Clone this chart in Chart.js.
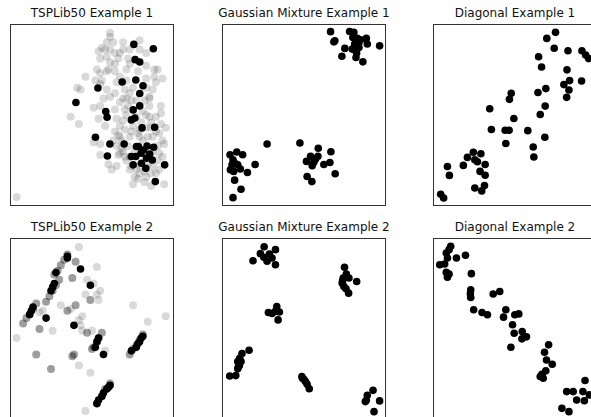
<!DOCTYPE html>
<html>
<head>
<meta charset="utf-8">
<script src="https://cdn.jsdelivr.net/npm/chart.js@4"></script>
<style>
  body { margin: 0; background: #fff; width: 591px; height: 417px; overflow: hidden; position: relative; }
  .panel { position: absolute; width: 164px; }
  .panel .title { position: absolute; top: -18px; left: -40px; width: 244px; text-align: center;
    font: 12px "DejaVu Sans", sans-serif; color: #111; white-space: nowrap; }
  canvas { display: block; }
</style>
</head>
<body>
<div class="panel" style="left:10px;top:24px"><div class="title">TSPLib50 Example 1</div><canvas id="c1" width="164" height="182"></canvas></div>
<div class="panel" style="left:222px;top:24px"><div class="title">Gaussian Mixture Example 1</div><canvas id="c2" width="164" height="182"></canvas></div>
<div class="panel" style="left:433px;top:24px"><div class="title">Diagonal Example 1</div><canvas id="c3" width="164" height="182"></canvas></div>
<div class="panel" style="left:10px;top:238px"><div class="title">TSPLib50 Example 2</div><canvas id="c4" width="164" height="182"></canvas></div>
<div class="panel" style="left:222px;top:238px"><div class="title">Gaussian Mixture Example 2</div><canvas id="c5" width="164" height="182"></canvas></div>
<div class="panel" style="left:433px;top:238px"><div class="title">Diagonal Example 2</div><canvas id="c6" width="164" height="182"></canvas></div>
<script>
// точки в долях осей (0..1)
const tsp1Black = [[0.755,0.888],[0.874,0.864],[0.763,0.804],[0.791,0.791],[0.767,0.692],[0.684,0.681],[0.811,0.661],[0.536,0.648],[0.791,0.618],[0.402,0.569],[0.791,0.550],[0.751,0.528],[0.584,0.519],[0.592,0.488],[0.761,0.483],[0.740,0.473],[0.805,0.429],[0.882,0.433],[0.521,0.378],[0.609,0.341],[0.696,0.341],[0.771,0.327],[0.836,0.330],[0.876,0.323],[0.767,0.272],[0.832,0.262],[0.868,0.253],[0.799,0.290],[0.740,0.272],[0.594,0.275],[0.751,0.226],[0.801,0.235],[0.943,0.226],[0.828,0.207],[0.886,0.134],[0.783,0.327],[0.852,0.286],[0.815,0.308]];
const tsp1Gray = [[0.61,0.95],[0.61,0.93],[0.59,0.90],[0.63,0.90],[0.56,0.87],[0.54,0.85],[0.58,0.86],[0.61,0.86],[0.64,0.84],[0.69,0.90],[0.69,0.86],[0.67,0.84],[0.73,0.86],[0.79,0.86],[0.83,0.84],[0.72,0.81],[0.73,0.78],[0.61,0.79],[0.64,0.78],[0.60,0.75],[0.53,0.75],[0.55,0.73],[0.59,0.74],[0.56,0.69],[0.64,0.74],[0.71,0.75],[0.67,0.71],[0.78,0.74],[0.83,0.77],[0.88,0.75],[0.90,0.75],[0.93,0.70],[0.88,0.71],[0.83,0.70],[0.75,0.65],[0.70,0.64],[0.64,0.62],[0.59,0.64],[0.55,0.67],[0.46,0.71],[0.41,0.65],[0.43,0.64],[0.87,0.64],[0.89,0.68],[0.85,0.59],[0.71,0.59],[0.69,0.59],[0.67,0.57],[0.72,0.55],[0.74,0.58],[0.77,0.58],[0.82,0.58],[0.85,0.55],[0.92,0.55],[0.92,0.51],[0.89,0.49],[0.83,0.50],[0.85,0.49],[0.86,0.46],[0.92,0.45],[0.95,0.43],[0.51,0.54],[0.55,0.55],[0.54,0.48],[0.58,0.44],[0.65,0.48],[0.37,0.49],[0.42,0.45],[0.70,0.53],[0.71,0.50],[0.69,0.47],[0.67,0.44],[0.70,0.42],[0.74,0.41],[0.79,0.38],[0.73,0.38],[0.67,0.38],[0.66,0.39],[0.81,0.36],[0.84,0.38],[0.87,0.38],[0.93,0.36],[0.94,0.34],[0.90,0.33],[0.51,0.35],[0.55,0.34],[0.55,0.28],[0.65,0.33],[0.68,0.32],[0.67,0.29],[0.70,0.27],[0.73,0.27],[0.71,0.25],[0.74,0.22],[0.73,0.20],[0.77,0.20],[0.82,0.19],[0.87,0.22],[0.91,0.20],[0.89,0.18],[0.79,0.18],[0.76,0.16],[0.78,0.15],[0.83,0.16],[0.86,0.18],[0.75,0.12],[0.82,0.13],[0.86,0.11],[0.94,0.12],[0.60,0.23],[0.62,0.20],[0.66,0.28],[0.65,0.22],[0.04,0.05],[0.79,0.42],[0.83,0.43],[0.78,0.40],[0.68,0.36],[0.83,0.27],[0.87,0.30],[0.91,0.29],[0.93,0.27],[0.84,0.23],[0.79,0.22],[0.90,0.25],[0.76,0.30],[0.72,0.33],[0.69,0.30],[0.63,0.36],[0.64,0.41],[0.61,0.60],[0.71,0.69],[0.73,0.62],[0.57,0.59],[0.52,0.69],[0.65,0.68],[0.66,0.81],[0.59,0.82],[0.55,0.81],[0.79,0.91],[0.83,0.65],[0.85,0.60],[0.77,0.49],[0.81,0.52],[0.80,0.46],[0.86,0.43],[0.89,0.41],[0.91,0.40],[0.75,0.44],[0.64,0.53]];

const gm1Points = [[0.662,0.958],[0.778,0.959],[0.804,0.954],[0.688,0.908],[0.682,0.902],[0.798,0.926],[0.825,0.921],[0.880,0.921],[0.835,0.899],[0.886,0.890],[0.961,0.880],[0.749,0.866],[0.794,0.862],[0.815,0.853],[0.835,0.871],[0.821,0.840],[0.731,0.823],[0.817,0.816],[0.859,0.792],[0.809,0.890],[0.845,0.913],
  [0.275,0.341],[0.049,0.282],[0.090,0.297],[0.126,0.282],[0.067,0.254],[0.077,0.236],[0.096,0.227],[0.051,0.199],[0.112,0.203],[0.071,0.190],[0.155,0.184],[0.202,0.228],[0.077,0.142],[0.116,0.092],[0.067,0.046],[0.061,0.227],
  [0.475,0.346],[0.587,0.317],[0.664,0.298],[0.540,0.273],[0.585,0.273],[0.515,0.245],[0.560,0.241],[0.550,0.221],[0.621,0.228],[0.658,0.239],[0.690,0.177],[0.519,0.162],[0.548,0.134],[0.570,0.258]];

const diag1Points = [[0.747,0.954],[0.694,0.921],[0.739,0.867],[0.823,0.853],[0.908,0.853],[0.931,0.829],[0.949,0.810],[0.644,0.820],[0.662,0.764],[0.817,0.748],[0.833,0.689],[0.906,0.687],[0.798,0.667],[0.829,0.637],[0.815,0.597],[0.688,0.645],[0.640,0.624],[0.684,0.549],[0.654,0.503],[0.477,0.619],[0.466,0.586],[0.346,0.534],[0.493,0.481],[0.356,0.420],[0.440,0.416],[0.464,0.416],[0.578,0.414],[0.682,0.378],[0.444,0.343],[0.611,0.324],[0.615,0.269],[0.246,0.295],[0.292,0.287],[0.210,0.267],[0.255,0.254],[0.271,0.243],[0.318,0.228],[0.185,0.223],[0.088,0.217],[0.100,0.168],[0.287,0.190],[0.318,0.169],[0.314,0.112],[0.255,0.099],[0.297,0.083],[0.047,0.064],[0.065,0.044]];

const tsp2Black = [[0.35,0.90],[0.35,0.89],[0.28,0.81],[0.43,0.83],[0.49,0.74],[0.27,0.75],[0.26,0.73],[0.25,0.71],[0.14,0.62],[0.13,0.60],[0.12,0.58],[0.22,0.56],[0.39,0.52],[0.54,0.45],[0.53,0.43],[0.52,0.40],[0.57,0.36],[0.81,0.46],[0.80,0.45],[0.79,0.43],[0.78,0.42],[0.77,0.40],[0.74,0.38],[0.61,0.19],[0.60,0.18],[0.59,0.17],[0.57,0.15],[0.56,0.13],[0.54,0.11],[0.53,0.09]];
const tsp2Mid = [[0.35,0.91],[0.33,0.88],[0.31,0.85],[0.29,0.82],[0.27,0.80],[0.30,0.77],[0.28,0.74],[0.26,0.71],[0.24,0.68],[0.22,0.65],[0.16,0.64],[0.14,0.61],[0.12,0.58],[0.10,0.56],[0.08,0.53],[0.56,0.48],[0.54,0.45],[0.53,0.43],[0.51,0.40],[0.50,0.39],[0.81,0.47],[0.79,0.44],[0.77,0.41],[0.75,0.39],[0.73,0.36],[0.61,0.20],[0.58,0.17],[0.56,0.13],[0.53,0.09],
  [0.40,0.87],[0.38,0.78],[0.49,0.66],[0.35,0.60],[0.40,0.63],[0.47,0.48],[0.18,0.50],[0.16,0.36],[0.25,0.28],[0.38,0.35],[0.39,0.36]];
const tsp2Light = [[0.42,0.95],[0.53,0.84],[0.47,0.77],[0.51,0.75],[0.46,0.69],[0.54,0.66],[0.53,0.69],[0.55,0.71],[0.31,0.63],[0.37,0.61],[0.44,0.57],[0.42,0.55],[0.43,0.52],[0.44,0.49],[0.50,0.49],[0.18,0.59],[0.20,0.60],[0.26,0.49],[0.04,0.45],[0.42,0.30],[0.49,0.26],[0.84,0.54],[0.95,0.57],[0.46,0.05],[0.58,0.38],[0.75,0.63]];

const gm2Points = [[0.257,0.952],[0.326,0.936],[0.234,0.914],[0.289,0.912],[0.255,0.894],[0.189,0.875],[0.275,0.872],[0.326,0.853],[0.305,0.890],
  [0.747,0.839],[0.758,0.802],[0.739,0.780],[0.774,0.780],[0.821,0.761],[0.733,0.752],[0.743,0.734],[0.756,0.721],[0.772,0.697],[0.735,0.765],
  [0.334,0.624],[0.324,0.596],[0.350,0.593],[0.283,0.591],[0.342,0.550],[0.305,0.585],
  [0.165,0.383],[0.122,0.365],[0.108,0.339],[0.096,0.321],[0.106,0.299],[0.096,0.281],[0.084,0.244],[0.047,0.242],[0.100,0.292],[0.116,0.321],
  [0.487,0.239],[0.499,0.224],[0.509,0.211],[0.519,0.196],[0.532,0.172],[0.491,0.229],
  [0.921,0.163],[0.886,0.136],[0.880,0.108],[0.874,0.101],[0.961,0.105],[0.927,0.046]];

const diag2Points = [[0.108,0.954],[0.098,0.936],[0.081,0.917],[0.088,0.890],[0.041,0.853],[0.071,0.857],[0.143,0.890],[0.198,0.905],[0.081,0.811],[0.098,0.802],[0.088,0.785],[0.234,0.804],[0.230,0.716],[0.228,0.694],[0.230,0.673],[0.367,0.692],[0.407,0.706],[0.248,0.606],[0.299,0.591],[0.332,0.578],[0.444,0.606],[0.430,0.565],[0.499,0.578],[0.523,0.583],[0.485,0.523],[0.495,0.477],[0.544,0.486],[0.570,0.457],[0.542,0.446],[0.475,0.400],[0.705,0.413],[0.680,0.372],[0.692,0.330],[0.727,0.306],[0.688,0.270],[0.664,0.251],[0.654,0.239],[0.672,0.229],[0.927,0.217],[0.914,0.156],[0.815,0.156],[0.855,0.156],[0.876,0.110],[0.923,0.106],[0.953,0.138],[0.786,0.064],[0.829,0.046]];

const BLACK = '#000000';
const MID = 'rgba(0,0,0,0.38)';
const LIGHT = 'rgba(0,0,0,0.15)';

// рамка вокруг области графика
const framePlugin = {
    id: 'frame',
    afterDraw(chart) {
        const a = chart.chartArea;
        const ctx = chart.ctx;
        ctx.save();
        ctx.strokeStyle = '#333';
        ctx.lineWidth = 1;
        ctx.strokeRect(a.left + 0.5, a.top + 0.5, a.right - a.left - 1, a.bottom - a.top - 1);
        ctx.restore();
    }
};

function toXY(arr) {
    return arr.map(p => ({ x: p[0], y: p[1] }));
}

function makeChart(id, layers) {
    const datasets = layers.map(l => ({
        data: toXY(l.points),
        backgroundColor: l.color,
        borderWidth: 0,
        pointRadius: l.r || 3.8,
        pointHoverRadius: l.r || 3.8
    }));
    new Chart(document.getElementById(id), {
        type: 'scatter',
        data: { datasets: datasets },
        options: {
            responsive: false,
            animation: false,
            events: [],
            layout: { padding: 0, autoPadding: false },
            plugins: { legend: { display: false }, tooltip: { enabled: false } },
            scales: {
                x: { display: false, min: 0, max: 1 },
                y: { display: false, min: 0, max: 1 }
            }
        },
        plugins: [framePlugin]
    });
}

// первый набор рисуется сверху
makeChart('c1', [{ points: tsp1Black, color: BLACK }, { points: tsp1Gray, color: LIGHT, r: 4 }]);
makeChart('c2', [{ points: gm1Points, color: BLACK }]);
makeChart('c3', [{ points: diag1Points, color: BLACK }]);
makeChart('c4', [{ points: tsp2Black, color: BLACK }, { points: tsp2Mid, color: MID, r: 4 }, { points: tsp2Light, color: LIGHT, r: 4 }]);
makeChart('c5', [{ points: gm2Points, color: BLACK }]);
makeChart('c6', [{ points: diag2Points, color: BLACK }]);
</script>
</body>
</html>
